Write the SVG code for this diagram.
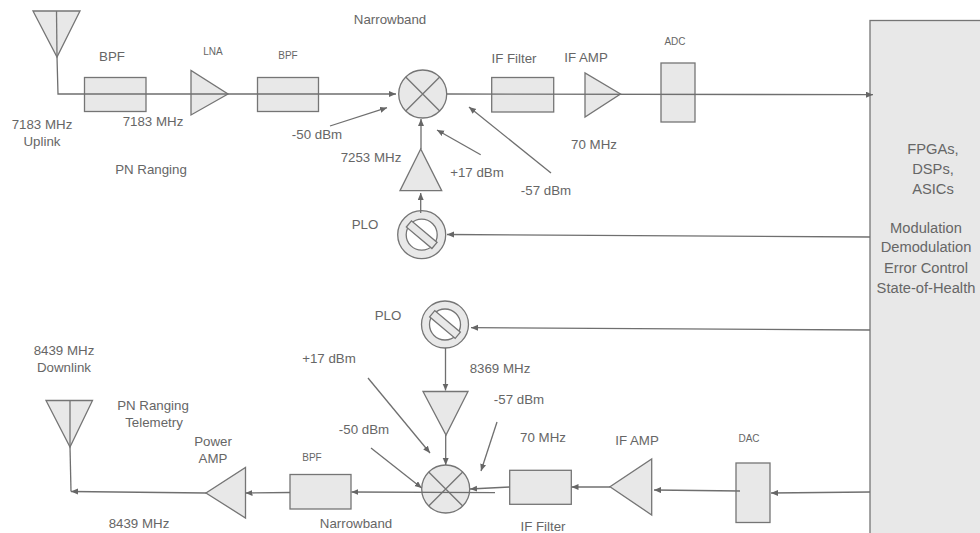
<svg xmlns="http://www.w3.org/2000/svg" width="980" height="533" viewBox="0 0 980 533">
<style>
.s{fill:#e8e8e8;stroke:#757575;stroke-width:1.3}
.w{fill:#fff;stroke:#757575;stroke-width:1.3}
.l{fill:none;stroke:#757575;stroke-width:1.3}
.c{fill:none;stroke:#6f6f6f;stroke-width:1.3}
.a{marker-end:url(#ah)}
text{font-family:"Liberation Sans",Arial,sans-serif;font-size:13.3px;fill:#666;text-anchor:middle}
.sm{font-size:10px}
.lg{font-size:14.7px}
</style>
<defs>
<marker id="ah" markerUnits="userSpaceOnUse" markerWidth="8" markerHeight="8" refX="7" refY="3" orient="auto"><path d="M0 0L7 3L0 6Z" fill="#666"/></marker>
</defs>
<rect x="0" y="0" width="980" height="533" fill="#fff"/>
<g id="processor"><rect class="s" x="870" y="20.500" width="120" height="530"/>
<text class="lg" x="933" y="154">FPGAs,</text><text class="lg" x="933" y="174">DSPs,</text><text class="lg" x="933" y="194">ASICs</text>
<text class="lg" x="926" y="233">Modulation</text><text class="lg" x="926" y="252">Demodulation</text><text class="lg" x="926" y="273">Error Control</text><text class="lg" x="926" y="292.500">State-of-Health</text></g>
<g id="rx-antenna"><path class="s" d="M33 11H80L57 57Z"/><path class="l" d="M56.500 11L57 57"/></g>
<g id="rx-bpf1"><rect class="s" x="84.500" y="77.500" width="61.500" height="34"/></g>
<g id="rx-lna"><path class="s" d="M191 70.500V115L228 94Z"/></g>
<g id="rx-bpf2"><rect class="s" x="257.500" y="77.500" width="61" height="34"/></g>
<g id="rx-mixer"><circle class="s" cx="422.700" cy="94" r="24"/><path class="l" d="M405.700 77L439.700 111M439.700 77L405.700 111"/></g>
<g id="rx-if-filter"><rect class="s" x="491.700" y="77.500" width="62" height="34.500"/></g>
<g id="rx-if-amp"><path class="s" d="M585 73V117L620.500 94Z"/></g>
<g id="rx-adc"><rect class="s" x="661" y="63" width="34" height="59"/></g>
<g id="rx-lo-amp"><path class="s" d="M420.700 149L400 190.700H441.700Z"/></g>
<g id="rx-plo"><circle class="s" cx="421.700" cy="234.700" r="24"/><circle class="w" cx="421.700" cy="234.700" r="15.500"/><rect class="s" x="405" y="230.700" width="33.400" height="8" transform="rotate(40 421.700 234.700)"/></g>
<g id="tx-plo"><circle class="s" cx="445" cy="324.500" r="23.500"/><circle class="w" cx="445" cy="324.500" r="15.500"/><rect class="s" x="428.300" y="320.500" width="33.400" height="8" transform="rotate(40 445 324.500)"/></g>
<g id="tx-lo-amp"><path class="s" d="M423 391.500H468L446 435Z"/></g>
<g id="tx-mixer"><circle class="s" cx="445.700" cy="489" r="24"/><path class="l" d="M428.700 472L462.700 506M462.700 472L428.700 506"/></g>
<g id="tx-if-filter"><rect class="s" x="509.700" y="470.300" width="61.600" height="34"/></g>
<g id="tx-if-amp"><path class="s" d="M651.700 459V515L610 486.700Z"/></g>
<g id="tx-dac"><rect class="s" x="736" y="463" width="34" height="59.500"/></g>
<g id="tx-bpf"><rect class="s" x="290" y="474.500" width="61" height="34.500"/></g>
<g id="tx-power-amp"><path class="s" d="M245.500 467.500V518L206 493Z"/></g>
<g id="tx-antenna"><path class="s" d="M46 400.500H92.500L70 447Z"/><path class="l" d="M70 400.500V447"/></g>
<g id="connectors">
<path class="c a" d="M57 57L58 94H396"/>
<path class="c a" d="M446.700 94L873 94.700"/>
<path class="c a" d="M421 149V119"/>
<path class="c a" d="M420.700 213V193"/>
<path class="c a" d="M870 237L447 234.500"/>
<path class="c a" d="M330 126L387 107.700"/>
<path class="c a" d="M480.700 154.700L437 130"/>
<path class="c a" d="M551 173L469 107"/>
<path class="c a" d="M870 330L471 327.700"/>
<path class="c a" d="M445.500 348V390.500"/>
<path class="c a" d="M445.700 435V465"/>
<path class="c a" d="M368 378L430 453"/>
<path class="c a" d="M371 448L421.700 488"/>
<path class="c a" d="M497 422L481 471"/>
<path class="c a" d="M870 492L771 493"/>
<path class="c a" d="M740 491L654 490"/>
<path class="c a" d="M610 487H571.500"/>
<path class="c a" d="M509.700 487L470 489"/>
<path class="c a" d="M495 492.700L351.500 492"/>
<path class="c a" d="M290 492.500L245.500 493"/>
<path class="c a" d="M206 493L71 491.500"/>
<path class="c" d="M70 447L71 491.500"/>
</g>
<g id="labels">
<text x="112" y="61">BPF</text><text class="sm" x="213" y="55">LNA</text><text class="sm" x="288" y="59">BPF</text>
<text x="390" y="24">Narrowband</text><text x="514" y="63">IF Filter</text><text x="586" y="62">IF AMP</text><text class="sm" x="675" y="45">ADC</text>
<text x="42" y="129">7183 MHz</text><text x="42" y="146">Uplink</text><text x="153" y="126">7183 MHz</text><text x="151" y="174">PN Ranging</text>
<text x="317" y="139">-50 dBm</text><text x="371" y="162">7253 MHz</text><text x="477" y="177">+17 dBm</text><text x="546" y="195">-57 dBm</text><text x="594" y="149">70 MHz</text><text x="365" y="229">PLO</text>
<text x="64" y="355">8439 MHz</text><text x="64" y="372">Downlink</text><text x="153" y="410">PN Ranging</text><text x="154" y="427">Telemetry</text>
<text x="213" y="446">Power</text><text x="213" y="463">AMP</text><text x="329" y="363">+17 dBm</text><text x="364" y="434">-50 dBm</text><text class="sm" x="312" y="461">BPF</text>
<text x="356" y="528">Narrowband</text><text x="139" y="528">8439 MHz</text><text x="388" y="320">PLO</text><text x="500" y="373">8369 MHz</text><text x="519" y="404">-57 dBm</text>
<text x="543" y="442">70 MHz</text><text x="637" y="445">IF AMP</text><text x="543" y="531">IF Filter</text><text class="sm" x="749" y="442">DAC</text>
</g>
</svg>
